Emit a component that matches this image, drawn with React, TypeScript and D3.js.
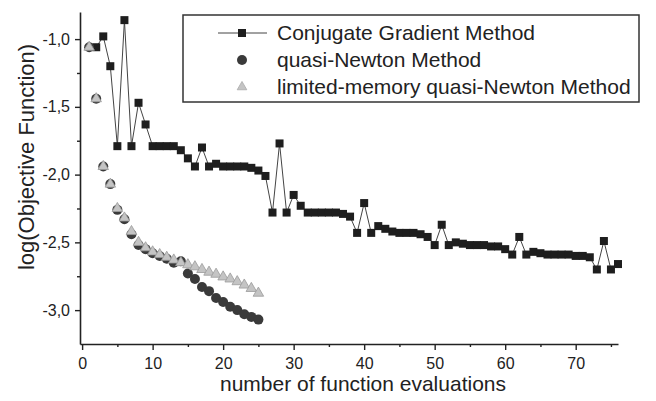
import React, { useRef, useEffect } from 'react';
import { select, scaleLinear, axisBottom, axisLeft, line, symbol, symbolTriangle, range } from 'd3';

// number of function evaluations -> log(objective function)
const cgStart = 2;
const cgValues = [
  -1.06, -0.98, -1.2, -1.79, -0.86, -1.79, -1.47, -1.63, -1.79, -1.79,
  -1.79, -1.79, -1.82, -1.88, -1.94, -1.8, -1.94, -1.92, -1.94, -1.94,
  -1.94, -1.94, -1.95, -1.97, -2.01, -2.28, -1.77, -2.28, -2.15, -2.23,
  -2.28, -2.28, -2.28, -2.28, -2.28, -2.29, -2.31, -2.43, -2.21, -2.43,
  -2.38, -2.4, -2.42, -2.43, -2.43, -2.43, -2.44, -2.46, -2.52, -2.37,
  -2.52, -2.5, -2.51, -2.52, -2.52, -2.52, -2.53, -2.53, -2.55, -2.59,
  -2.46, -2.59, -2.57, -2.58, -2.59, -2.59, -2.59, -2.59, -2.6, -2.6,
  -2.61, -2.7, -2.49, -2.7, -2.66,
];

const qnStart = 1;
const qnValues = [
  -1.06, -1.44, -1.94, -2.07, -2.26, -2.33, -2.44, -2.52, -2.55, -2.58,
  -2.6, -2.62, -2.65, -2.64, -2.73, -2.77, -2.83, -2.86, -2.91, -2.94,
  -2.975, -3.0, -3.03, -3.05, -3.07,
];

const lmStart = 1;
const lmValues = [
  -1.06, -1.44, -1.94, -2.07, -2.25, -2.32, -2.42, -2.5, -2.54, -2.57,
  -2.59, -2.61, -2.63, -2.65, -2.665, -2.68, -2.7, -2.72, -2.735, -2.755,
  -2.77, -2.79, -2.815, -2.84, -2.875,
];

const xMajorTicks = [0, 10, 20, 30, 40, 50, 60, 70];
const xMinorTicks = [5, 15, 25, 35, 45, 55, 65, 75];
const yMajorTicks = [-1.0, -1.5, -2.0, -2.5, -3.0];
const yMinorTicks = [-1.25, -1.75, -2.25, -2.75];

const legendLabels = [
  'Conjugate Gradient Method',
  'quasi-Newton Method',
  'limited-memory quasi-Newton Method',
];

const xTitle = 'number of function evaluations';
const yTitle = 'log(Objective Function)';

const ink = '#222';
const font = '"Liberation Sans", Arial, sans-serif';

export default function App() {
  const width = 656;
  const height = 401;
  const gRef = useRef<SVGGElement>(null);

  const xScale = scaleLinear().domain([-0.3, 76]).range([80, 618]);
  const yScale = scaleLinear().domain([-3.25, -0.8]).range([344, 12]);

  const toPoints = (start: number, vals: number[]) =>
    vals.map((v, i) => [start + i, v] as [number, number]);

  const cg = toPoints(cgStart, cgValues);
  const qn = toPoints(qnStart, qnValues);
  const lm = toPoints(lmStart, lmValues);

  useEffect(() => {
    const root = select(gRef.current);
    root.selectAll('*').remove();

    const fmt = (d: number) => d.toFixed(1).replace('.', ',');
    const x0 = xScale.range()[0];
    const y0 = yScale.range()[0];

    // x axis: minor then major ticks
    root.append('g')
      .attr('transform', `translate(0,${y0})`)
      .call(axisBottom(xScale).tickValues(xMinorTicks).tickSize(3).tickSizeOuter(0).tickFormat(() => ''))
      .call((g) => g.select('.domain').remove());
    const gx = root.append('g')
      .attr('transform', `translate(0,${y0})`)
      .call(axisBottom(xScale).tickValues(xMajorTicks).tickSize(6).tickPadding(8).tickSizeOuter(0).tickFormat((d) => String(d)));
    gx.selectAll('text').attr('font-size', 16).attr('font-family', font).attr('fill', ink);

    // y axis: minor then major ticks
    root.append('g')
      .attr('transform', `translate(${x0},0)`)
      .call(axisLeft(yScale).tickValues(yMinorTicks).tickSize(3).tickSizeOuter(0).tickFormat(() => ''))
      .call((g) => g.select('.domain').remove());
    const gy = root.append('g')
      .attr('transform', `translate(${x0},0)`)
      .call(axisLeft(yScale).tickValues(yMajorTicks).tickSize(5).tickPadding(5).tickSizeOuter(0).tickFormat((d) => fmt(d as number)));
    gy.selectAll('text').attr('font-size', 16).attr('font-family', font).attr('fill', ink);

    root.selectAll('.domain').attr('stroke', ink).attr('stroke-width', 1.6);
    root.selectAll('.tick line').attr('stroke', ink).attr('stroke-width', 1.4);

    const plot = root.append('g');

    // conjugate gradient: thin line with squares
    const path = line<[number, number]>()
      .x((d) => xScale(d[0]))
      .y((d) => yScale(d[1]));
    plot.append('path').attr('d', path(cg)).attr('fill', 'none').attr('stroke', '#444').attr('stroke-width', 1);
    plot.selectAll('.sq')
      .data(cg)
      .join('rect')
      .attr('class', 'sq')
      .attr('x', (d) => xScale(d[0]) - 4)
      .attr('y', (d) => yScale(d[1]) - 4)
      .attr('width', 8)
      .attr('height', 8)
      .attr('fill', '#1e1e1e');

    // quasi-Newton: dark circles
    plot.selectAll('.qn')
      .data(qn)
      .join('circle')
      .attr('class', 'qn')
      .attr('cx', (d) => xScale(d[0]))
      .attr('cy', (d) => yScale(d[1]))
      .attr('r', 5)
      .attr('fill', '#3a3a3a');

    // limited-memory: light triangles
    const tri = symbol().type(symbolTriangle).size(48);
    plot.selectAll('.lm')
      .data(lm)
      .join('path')
      .attr('class', 'lm')
      .attr('d', tri() as string)
      .attr('transform', (d) => `translate(${xScale(d[0])},${yScale(d[1])})`)
      .attr('fill', '#c4c4c4')
      .attr('stroke', '#9a9a9a')
      .attr('stroke-width', 0.8);

    // legend
    const lg = root.append('g');
    lg.append('rect')
      .attr('x', 183).attr('y', 15).attr('width', 456).attr('height', 87)
      .attr('fill', 'white').attr('stroke', '#333').attr('stroke-width', 1.5);
    const rows = range(legendLabels.length).map((i) => 33 + i * 27);
    lg.append('line')
      .attr('x1', 218).attr('x2', 267).attr('y1', rows[0]).attr('y2', rows[0])
      .attr('stroke', '#444').attr('stroke-width', 1);
    lg.append('rect').attr('x', 238).attr('y', rows[0] - 4).attr('width', 8).attr('height', 8).attr('fill', '#1e1e1e');
    lg.append('circle').attr('cx', 242).attr('cy', rows[1]).attr('r', 5).attr('fill', '#3a3a3a');
    lg.append('path')
      .attr('d', symbol().type(symbolTriangle).size(40)() as string)
      .attr('transform', `translate(242,${rows[2]})`)
      .attr('fill', '#c4c4c4').attr('stroke', '#aaa').attr('stroke-width', 0.8);
    lg.selectAll('.lt')
      .data(legendLabels)
      .join('text')
      .attr('class', 'lt')
      .attr('x', 277)
      .attr('y', (d, i) => rows[i] + 7)
      .attr('font-size', 21)
      .attr('font-family', font)
      .attr('fill', ink)
      .text((d) => d);
  }, []);

  return (
    <svg
      width={width}
      height={height}
      style={{ display: 'block', position: 'absolute', left: 0, top: 0, background: 'white' }}
    >
      <g ref={gRef}></g>
      <text x={363} y={391} textAnchor="middle" fontSize={21} fontFamily={font} fill={ink}>
        {xTitle}
      </text>
      <text transform="translate(34,157) rotate(-90)" textAnchor="middle" fontSize={22} fontFamily={font} fill={ink}>
        {yTitle}
      </text>
    </svg>
  );
}
